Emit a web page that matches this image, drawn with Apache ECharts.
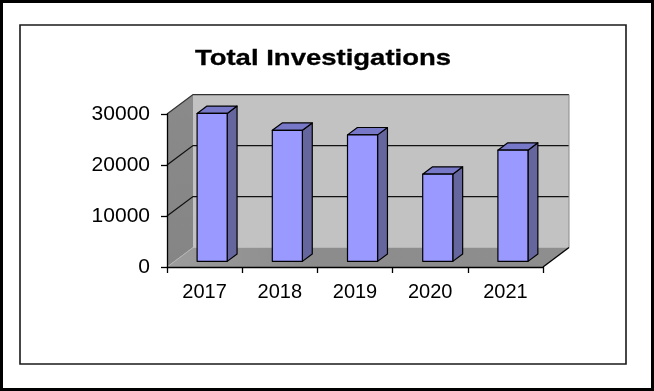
<!DOCTYPE html>
<html>
<head>
<meta charset="utf-8">
<title>Total Investigations</title>
<script src="https://cdn.jsdelivr.net/npm/echarts@6/dist/echarts.min.js"></script>
<style>
  html, body { margin: 0; padding: 0; background: #ffffff; }
  #chart { width: 654px; height: 391px; }
</style>
</head>
<body>
<div id="chart"></div>
<script>
// Yearly totals
const categories = ['2017', '2018', '2019', '2020', '2021'];
const investigations = [29000, 25700, 24800, 17100, 21800];

// Value axis range
const yMin = 0;
const yMax = 30000;
const yStep = 10000;

// Oblique projection used for the 3D look (pixels)
const DEPTH = { x: 26, y: -19.4 };   // front plane -> back wall
const BAR_FRONT = 0.29;              // bar front face, as a share of the depth
const BAR_DEPTH = 0.38;              // bar thickness, as a share of the depth
const BAR_WIDTH = 0.4;               // bar width, as a share of a category band

const FONT = '"Liberation Sans", Arial, sans-serif';

const chart = echarts.init(document.getElementById('chart'), null, { renderer: 'canvas' });

function gridTicks() {
  const t = [];
  for (let v = yMin + yStep; v < yMax; v += yStep) t.push(v);
  return t;
}

// Back wall, left wall and floor of the 3D box
function renderWalls(params, api) {
  const cs = params.coordSys;
  const xL = cs.x, xR = cs.x + cs.width;
  const yTop = api.coord([0, yMax])[1];
  const yBase = api.coord([0, yMin])[1];
  const dx = DEPTH.x, dy = DEPTH.y;
  const children = [];

  // back wall
  children.push({
    type: 'polygon',
    shape: { points: [[xL + dx, yTop + dy], [xR + dx, yTop + dy], [xR + dx, yBase + dy], [xL + dx, yBase + dy]] },
    style: { fill: '#c2c2c2', stroke: null }
  });
  // left wall
  children.push({
    type: 'polygon',
    shape: { points: [[xL, yTop], [xL + dx, yTop + dy], [xL + dx, yBase + dy], [xL, yBase]] },
    style: {
      fill: new echarts.graphic.LinearGradient(0, 0, 0, 1, [
        { offset: 0, color: '#8a8a8a' },
        { offset: 1, color: '#858585' }
      ]),
      stroke: null
    }
  });
  // floor
  children.push({
    type: 'polygon',
    shape: { points: [[xL, yBase], [xL + dx, yBase + dy], [xR + dx, yBase + dy], [xR, yBase]] },
    style: {
      fill: new echarts.graphic.LinearGradient(0, 1, 1, 0, [
        { offset: 0, color: '#9c9c9c' },
        { offset: 0.35, color: '#8c8c8c' },
        { offset: 1, color: '#8e8e8e' }
      ]),
      stroke: null
    }
  });
  // light seam between left wall and floor
  children.push({
    type: 'line',
    shape: { x1: xL, y1: yBase, x2: xL + dx, y2: yBase + dy },
    style: { stroke: '#b4b4b4', lineWidth: 1 }
  });
  // gridlines across left wall and back wall
  gridTicks().forEach(function (v) {
    const y = api.coord([0, v])[1];
    children.push({
      type: 'polyline',
      shape: { points: [[xL, y], [xL + dx, y + dy], [xR + dx, y + dy]] },
      style: { stroke: '#111111', lineWidth: 1.3, fill: null }
    });
  });
  // top edge of the box
  children.push({
    type: 'polyline',
    shape: { points: [[xL, yTop], [xL + dx, yTop + dy], [xR + dx, yTop + dy]] },
    style: { stroke: '#333333', lineWidth: 1.3, fill: null }
  });
  // right edge of the back wall
  children.push({
    type: 'line',
    shape: { x1: xR + dx, y1: yTop + dy, x2: xR + dx, y2: yBase + dy },
    style: { stroke: '#8a8a8a', lineWidth: 1 }
  });
  // right edge of the floor
  children.push({
    type: 'line',
    shape: { x1: xR, y1: yBase, x2: xR + dx, y2: yBase + dy },
    style: { stroke: '#000000', lineWidth: 1.3 }
  });
  return { type: 'group', children: children };
}

// One 3D column: front face, right side, top
function renderBar(params, api) {
  const i = api.value(0);
  const v = api.value(1);
  const top = api.coord([i, v]);
  const base = api.coord([i, yMin]);
  const band = api.size([1, 0])[0];
  const w = band * BAR_WIDTH;
  const ox = DEPTH.x * BAR_FRONT, oy = DEPTH.y * BAR_FRONT;
  const dx = DEPTH.x * BAR_DEPTH, dy = DEPTH.y * BAR_DEPTH;
  const x0 = top[0] - w / 2 + ox;
  const x1 = x0 + w;
  const yT = top[1] + oy;
  const yB = base[1] + oy;
  const edge = { stroke: '#000000', lineWidth: 1.2, lineJoin: 'round' };
  return {
    type: 'group',
    children: [
      {
        type: 'polygon',
        shape: { points: [[x1, yT], [x1 + dx, yT + dy], [x1 + dx, yB + dy], [x1, yB]] },
        style: Object.assign({ fill: '#66669f' }, edge)
      },
      {
        type: 'polygon',
        shape: { points: [[x0, yT], [x0 + dx, yT + dy], [x1 + dx, yT + dy], [x1, yT]] },
        style: Object.assign({ fill: '#7878c8' }, edge)
      },
      {
        type: 'rect',
        shape: { x: x0, y: yT, width: w, height: yB - yT },
        style: Object.assign({ fill: '#9999ff' }, edge)
      }
    ]
  };
}

const option = {
  backgroundColor: '#ffffff',
  animation: false,
  graphic: [
    {
      type: 'rect',
      z: 0,
      shape: { x: 1.5, y: 1.5, width: 651, height: 388 },
      style: { fill: null, stroke: '#000000', lineWidth: 3 }
    },
    {
      type: 'rect',
      z: 0,
      shape: { x: 20, y: 25, width: 606, height: 339 },
      style: { fill: null, stroke: '#1a1a1a', lineWidth: 1.6 }
    },
    {
      type: 'text',
      z: 5,
      x: 323,
      y: 59,
      scaleX: 1.25,
      style: {
        text: 'Total Investigations',
        x: 0,
        y: 0,
        align: 'center',
        verticalAlign: 'middle',
        fontFamily: FONT,
        fontWeight: 'bold',
        fontSize: 22,
        fill: '#000000',
        stroke: '#000000',
        lineWidth: 0.3
      }
    }
  ],
  grid: { left: 167, right: 111, top: 114, bottom: 124, containLabel: false },
  xAxis: {
    type: 'category',
    data: categories,
    boundaryGap: true,
    z: 10,
    axisLine: { show: true, lineStyle: { color: '#000000', width: 1.3 } },
    axisTick: { show: true, length: 6, alignWithLabel: false, lineStyle: { color: '#000000', width: 1.3 } },
    axisLabel: { color: '#000000', fontFamily: FONT, fontSize: 20, margin: 15 },
    splitLine: { show: false }
  },
  yAxis: {
    type: 'value',
    min: yMin,
    max: yMax,
    interval: yStep,
    z: 10,
    axisLine: { show: true, lineStyle: { color: '#000000', width: 1.3 } },
    axisTick: { show: true, length: 6, lineStyle: { color: '#000000', width: 1.3 } },
    axisLabel: {
      color: '#000000',
      fontFamily: FONT,
      fontSize: 21,
      margin: 17,
      formatter: function (v) { return String(v); }
    },
    splitLine: { show: false }
  },
  series: [
    {
      type: 'custom',
      name: 'walls',
      z: 1,
      silent: true,
      data: [[0, 0]],
      renderItem: renderWalls
    },
    {
      type: 'custom',
      name: 'Total Investigations',
      z: 3,
      data: investigations.map(function (v, i) { return [i, v]; }),
      encode: { x: 0, y: 1 },
      renderItem: renderBar
    }
  ]
};

chart.setOption(option);
</script>
</body>
</html>
